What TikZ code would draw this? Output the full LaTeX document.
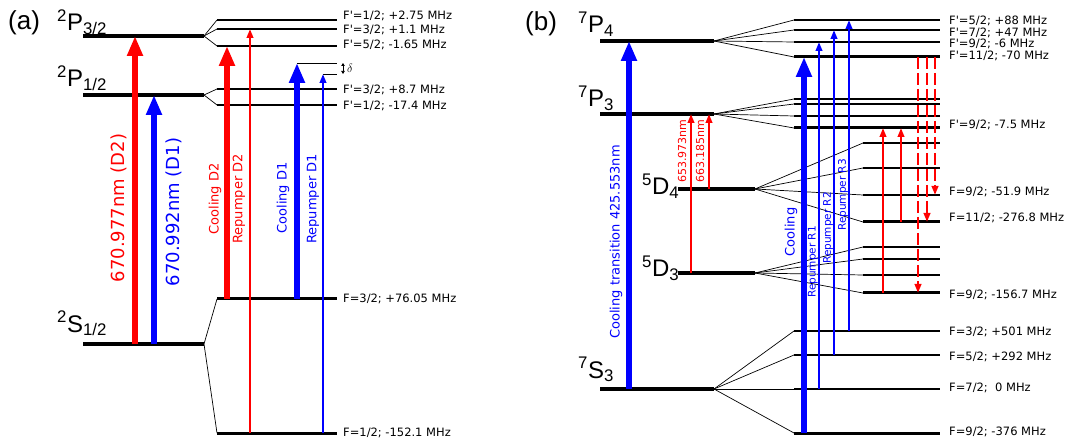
\documentclass[tikz,border=0pt]{standalone}
\usepackage{fontspec}
\setmainfont{DejaVu Sans}
\newfontfamily\termfont{Liberation Sans}
\usetikzlibrary{arrows.meta}

\begin{document}
\begin{tikzpicture}[
    x=1pt, y=-1pt,
    every node/.style={font=\fontsize{11.5}{13}\selectfont, inner sep=0pt},
    lvl/.style={line width=4pt},
    fanline/.style={line width=0.7pt},
    hflabel/.style={anchor=west},
    term/.style={anchor=base west, font=\termfont\fontsize{24}{26}\selectfont},
    panel/.style={anchor=base west, font=\termfont\fontsize{26}{28}\selectfont},
    bigarrow/.style={line width=6pt, -{Triangle[length=20pt, width=15pt]}},
    thinarrow/.style={line width=2.2pt, -{Triangle[length=9pt, width=6.5pt]}},
    beam/.style={rotate=90, font=\fontsize{13}{15}\selectfont},
    beamsmall/.style={rotate=90, font=\fontsize{10.5}{12}\selectfont},
]
\useasboundingbox (0,0) rectangle (1075,443);

% ---------------- (a) ----------------
\node[panel] (pa) at (8,30) {(a)};

% fine structure
\coordinate (P32) at (204,36);
\coordinate (P12) at (204,95);
\coordinate (S12) at (204,344);
\foreach \c in {P32, P12, S12}
  \draw[lvl] (\c) -- ++(-121,0);
\node[term] (tP32) at (57,31) {\textsuperscript{2}P\textsubscript{3/2}};
\node[term] (tP12) at (57,87) {\textsuperscript{2}P\textsubscript{1/2}};
\node[term] (tS12) at (57,332) {\textsuperscript{2}S\textsubscript{1/2}};

% hyperfine of 2P3/2
\foreach \n/\y/\ly/\w/\txt in {
    Fp12/20/16/1.1pt/{F\textquotesingle=1/2; +2.75 MHz},
    Fp32/29/30/1.8pt/{F\textquotesingle=3/2; +1.1 MHz},
    Fp52/46/45/1.8pt/{F\textquotesingle=5/2; -1.65 MHz}} {
  \coordinate (\n) at (217,\y);
  \draw[fanline] (P32) -- (\n);
  \draw[line width=\w] (\n) -- ++(120,0);
  \node[hflabel] (l\n) at (343,\ly) {\txt};
}
% hyperfine of 2P1/2
\foreach \n/\y/\ly/\txt in {
    Gp32/89/90/{F\textquotesingle=3/2; +8.7 MHz},
    Gp12/105/106/{F\textquotesingle=1/2; -17.4 MHz}} {
  \coordinate (\n) at (217,\y);
  \draw[fanline] (P12) -- (\n);
  \draw[line width=1.8pt] (\n) -- ++(120,0);
  \node[hflabel] (l\n) at (343,\ly) {\txt};
}
% hyperfine of 2S1/2
\foreach \n/\y/\txt in {
    F32/299/{F=3/2; +76.05 MHz},
    F12/433/{F=1/2; -152.1 MHz}} {
  \coordinate (\n) at (217,\y);
  \draw[fanline] (S12) -- (\n);
  \draw[line width=3pt] (\n) -- ++(120,0);
  \node[hflabel] (l\n) at (343,\y) {\txt};
}

% detuning
\coordinate (dA) at (297,63);
\coordinate (dB) at (323,74);
\draw[line width=0.8pt] (dA) -- ++(40,0);
\draw[line width=0.8pt] (dB) -- ++(14,0);
\draw[line width=0.8pt, {Triangle[length=3pt, width=3.5pt]}-{Triangle[length=3pt, width=3.5pt]}]
  (343,0 |- dA) -- (343,0 |- dB);
\node[anchor=west] (delta) at (347,68) {$\delta$};

% transitions
\draw[bigarrow, red] (135,0 |- S12) -- (135,0 |- P32);
\draw[bigarrow, blue] (154,0 |- S12) -- (154,0 |- P12);
\draw[bigarrow, red] (227,0 |- F32) -- (227,0 |- Fp52);
\draw[thinarrow, red] (250,0 |- F12) -- (250,0 |- Fp32);
\draw[bigarrow, blue] (297,0 |- F32) -- (dA);
\draw[thinarrow, blue] (dB |- F12) -- (dB);

\node[rotate=90, red, font=\fontsize{18}{20}\selectfont] (wD2) at (119,208) {670.977nm (D2)};
\node[rotate=90, blue, font=\fontsize{18}{20}\selectfont] (wD1) at (174,212) {670.992nm (D1)};
\node[beam, red] (cD2) at (215,199) {Cooling D2};
\node[beam, red] (rD2) at (239,199) {Repumper D2};
\node[beam, blue] (cD1) at (283,198) {Cooling D1};
\node[beam, blue] (rD1) at (313,199) {Repumper D1};

% ---------------- (b) ----------------
\node[panel] (pb) at (525,31) {(b)};

% fine structure
\coordinate (P4) at (714,41);
\coordinate (P3) at (714,114);
\coordinate (D4) at (755,189);
\coordinate (D3) at (755,273);
\coordinate (S3) at (714,389);
\foreach \c in {P4, P3, S3}
  \draw[lvl] (\c) -- ++(-114,0);
\foreach \c in {D4, D3}
  \draw[lvl] (\c) -- ++(-77,0);
\node[term] (tP4) at (578,33) {\textsuperscript{7}P\textsubscript{4}};
\node[term] (tP3) at (578,107) {\textsuperscript{7}P\textsubscript{3}};
\node[term] (tD4) at (642,195) {\textsuperscript{5}D\textsubscript{4}};
\node[term] (tD3) at (642,277) {\textsuperscript{5}D\textsubscript{3}};
\node[term] (tS3) at (578,378) {\textsuperscript{7}S\textsubscript{3}};

% hyperfine of 7P4
\foreach \n/\y/\ly/\w/\txt in {
    Q52/20/21/1.1pt/{F\textquotesingle=5/2; +88 MHz},
    Q72/30/33/1.1pt/{F\textquotesingle=7/2; +47 MHz},
    Q92/42/44/1.1pt/{F\textquotesingle=9/2; -6 MHz},
    Q112/57/56/3pt/{F\textquotesingle=11/2; -70 MHz}} {
  \coordinate (\n) at (794,\y);
  \draw[fanline] (P4) -- (\n);
  \draw[line width=\w] (\n) -- ++(146,0);
  \node[hflabel] (l\n) at (949,\ly) {\txt};
}
% hyperfine of 7P3
\foreach \n/\y in {R1/99, R2/104, R3/116} {
  \coordinate (\n) at (794,\y);
  \draw[fanline] (P3) -- (\n);
  \draw[line width=1.1pt] (\n) -- ++(146,0);
}
\coordinate (R92) at (794,128);
\draw[fanline] (P3) -- (R92);
\draw[line width=3pt] (R92) -- ++(146,0);
\node[hflabel] (lR92) at (949,125) {F\textquotesingle=9/2; -7.5 MHz};

% hyperfine of 5D4
\foreach \n/\y in {T1/143, T2/168} {
  \coordinate (\n) at (863,\y);
  \draw[fanline] (D4) -- (\n);
  \draw[line width=1.1pt] (\n) -- ++(77,0);
}
\coordinate (T92) at (863,195);
\draw[fanline] (D4) -- (T92);
\draw[line width=1.1pt] (T92) -- ++(77,0);
\node[hflabel] (lT92) at (949,192) {F=9/2; -51.9 MHz};
\coordinate (T112) at (863,222);
\draw[fanline] (D4) -- (T112);
\draw[line width=3pt] (T112) -- ++(77,0);
\node[hflabel] (lT112) at (949,218) {F=11/2; -276.8 MHz};

% hyperfine of 5D3
\foreach \n/\y in {U1/247, U2/259, U3/275} {
  \coordinate (\n) at (863,\y);
  \draw[fanline] (D3) -- (\n);
  \draw[line width=1.1pt] (\n) -- ++(77,0);
}
\coordinate (U92) at (863,293);
\draw[fanline] (D3) -- (U92);
\draw[line width=3pt] (U92) -- ++(77,0);
\node[hflabel] (lU92) at (949,295) {F=9/2; -156.7 MHz};

% hyperfine of 7S3
\foreach \n/\y/\ly/\w/\txt in {
    V32/331/332/1.1pt/{F=3/2; +501 MHz},
    V52/355/357/1.1pt/{F=5/2; +292 MHz},
    V72/389/388/1.1pt/{F=7/2;~ 0 MHz},
    V92/433/432/3pt/{F=9/2; -376 MHz}} {
  \coordinate (\n) at (794,\y);
  \draw[fanline] (S3) -- (\n);
  \draw[line width=\w] (\n) -- ++(146,0);
  \node[hflabel] (l\n) at (949,\ly) {\txt};
}

% transitions
\draw[bigarrow, blue] (629,0 |- S3) -- (629,0 |- P4);
\draw[thinarrow, red] (691,0 |- D3) -- (691,0 |- P3);
\draw[thinarrow, red] (709,0 |- D4) -- (709,0 |- P3);
\draw[bigarrow, blue] (804,0 |- V92) -- (804,0 |- Q112);
\draw[thinarrow, blue] (819,0 |- V72) -- (819,0 |- Q92);
\draw[thinarrow, blue] (834,0 |- V52) -- (834,0 |- Q72);
\draw[thinarrow, blue] (849,0 |- V32) -- (849,0 |- Q52);
\draw[thinarrow, red] (883,0 |- U92) -- (883,0 |- R92);
\draw[thinarrow, red] (901,0 |- T112) -- (901,0 |- R92);
\foreach \x/\t in {918/U92, 927/T112, 935/T92}
  \draw[thinarrow, red, dash pattern=on 12pt off 4pt] (\x,0 |- Q112) -- (\x,0 |- \t);

\node[beam, blue] (wCool) at (616,242) {Cooling transition 425.553nm};
\node[rotate=90, red, font=\fontsize{11}{13}\selectfont] (w653) at (682,151) {653.973nm};
\node[rotate=90, red, font=\fontsize{11}{13}\selectfont] (w663) at (700,151) {663.185nm};
\node[beam, blue] (cool) at (791,232) {Cooling};
\node[beamsmall, blue] (rep1) at (813,262) {Repumper R1};
\node[beamsmall, blue] (rep2) at (828,228) {Repumper R2};
\node[beamsmall, blue] (rep3) at (843,195) {Repumper R3};
\end{tikzpicture}
\end{document}
